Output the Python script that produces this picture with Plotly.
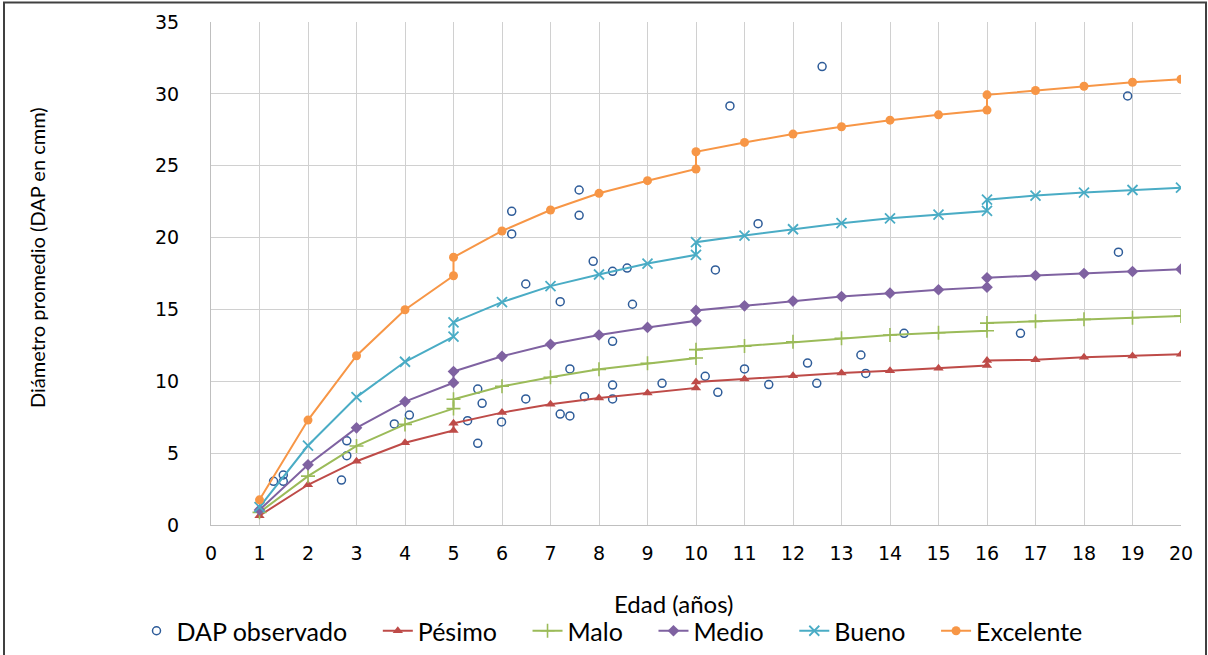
import plotly.graph_objects as go

# ---- data ----
model_x = [1, 2, 3, 4, 5, 5, 6, 7, 8, 9, 10, 10, 11, 12, 13, 14, 15, 16, 16, 17, 18, 19, 20]

pesimo = [0.65, 2.8, 4.44, 5.72, 6.57, 7.08, 7.82, 8.4, 8.84, 9.19, 9.54, 9.95, 10.16, 10.39, 10.58,
          10.74, 10.9, 11.09, 11.44, 11.5, 11.67, 11.76, 11.88]
malo = [0.88, 3.4, 5.5, 7.0, 8.1, 8.75, 9.65, 10.28, 10.83, 11.25, 11.62, 12.2, 12.45, 12.75, 12.99,
        13.22, 13.38, 13.52, 14.05, 14.17, 14.31, 14.42, 14.54]
medio = [1.05, 4.19, 6.76, 8.59, 9.9, 10.68, 11.74, 12.57, 13.22, 13.75, 14.21, 14.93, 15.25, 15.58, 15.9,
         16.13, 16.37, 16.55, 17.2, 17.36, 17.5, 17.64, 17.8]
bueno = [1.25, 5.53, 8.9, 11.36, 13.1, 14.1, 15.51, 16.62, 17.43, 18.19, 18.8, 19.68, 20.14, 20.58, 21.0,
         21.34, 21.6, 21.85, 22.64, 22.92, 23.13, 23.31, 23.47]
excelente = [1.75, 7.3, 11.78, 14.98, 17.34, 18.63, 20.46, 21.92, 23.08, 23.96, 24.77, 25.97, 26.62, 27.2,
             27.71, 28.17, 28.54, 28.87, 29.93, 30.23, 30.53, 30.81, 31.02]

obs_x = [1.29, 1.49, 1.49, 2.69, 2.8, 2.8, 3.78, 4.09, 5.29, 5.5, 5.5, 5.59, 5.99, 6.2, 6.2, 6.49, 6.49,
         7.2, 7.2, 7.4, 7.4, 7.59, 7.59, 7.7, 7.88, 8.28, 8.28, 8.28, 8.28, 8.58, 8.69, 9.3, 10.19, 10.4,
         10.45, 10.7, 11.0, 11.28, 11.5, 12.3, 12.49, 12.6, 13.4, 13.5, 14.29, 16.69, 18.71, 18.9]
obs_y = [3.04, 3.48, 3.04, 3.13, 4.82, 5.86, 7.03, 7.65, 7.26, 5.68, 9.46, 8.47, 7.17, 21.83, 20.25, 16.77,
         8.77, 15.54, 7.72, 7.59, 10.86, 23.31, 21.55, 8.93, 18.35, 17.65, 12.78, 9.74, 8.77, 17.88, 15.36,
         9.86, 10.35, 17.75, 9.23, 29.16, 10.86, 20.97, 9.77, 11.27, 9.86, 31.9, 11.83, 10.55, 13.34, 13.34,
         18.98, 29.85]

x_ticks = list(range(0, 21))
y_ticks = [0, 5, 10, 15, 20, 25, 30, 35]

series = [
    ("Pésimo", pesimo, "#BE4B48", "triangle-up", 9, 0),
    ("Malo", malo, "#9BBB59", "cross-thin", 10, 1.6),
    ("Medio", medio, "#7F62A1", "diamond", 9, 0),
    ("Bueno", bueno, "#4AACC5", "x-thin", 10, 1.8),
    ("Excelente", excelente, "#F79646", "circle", 9, 0),
]

LEGEND_FONT = "Lato, 'Open Sans', sans-serif"
TICK_FONT = "'DejaVu Sans', Verdana, sans-serif"
PAD = "\u00a0" * 4  # visual gap between legend entries

fig = go.Figure()
fig.add_trace(go.Scatter(
    x=obs_x, y=obs_y, mode="markers", name="DAP observado" + PAD,
    marker=dict(symbol="circle-open", size=8, color="#2E5C99", line=dict(width=1.5, color="#2E5C99")),
))
for name, vals, color, sym, size, lw in series:
    mk = dict(symbol=sym, size=size, color=color)
    if lw:
        mk["line"] = dict(width=lw, color=color)
    fig.add_trace(go.Scatter(
        x=model_x, y=vals, mode="lines+markers",
        name=name + (PAD if name != "Excelente" else ""),
        line=dict(color=color, width=2), marker=mk,
    ))

W, H = 1208, 655
L, R, T, B = 211, 27, 22, 130
pw, ph = W - L - R, H - T - B
PLOT_BOTTOM = T + ph

def px2paper(px, py):
    return (px - L) / pw, (PLOT_BOTTOM - py) / ph

fig.update_layout(
    width=W, height=H,
    margin=dict(l=L, r=R, t=T, b=B, pad=0, autoexpand=False),
    paper_bgcolor="white", plot_bgcolor="white",
    showlegend=True,
    legend=dict(
        orientation="h", x=px2paper(612, 0)[0], xanchor="center",
        y=px2paper(0, 631)[1], yanchor="middle",
        font=dict(family=LEGEND_FONT, size=25, color="#000000"),
        bgcolor="rgba(0,0,0,0)", itemwidth=30, tracegroupgap=0,
    ),
    xaxis=dict(
        range=[0, 20], tickvals=x_ticks, ticktext=[str(v) for v in x_ticks],
        showgrid=True, gridcolor="#D0D0D0", gridwidth=1,
        showline=True, linecolor="#BFBFBF", linewidth=1, zeroline=False,
        ticks="", ticklabelstandoff=11, automargin=False,
        tickfont=dict(family=TICK_FONT, size=19, color="#000000"),
    ),
    yaxis=dict(
        range=[0, 35], tickvals=y_ticks, ticktext=[str(v) for v in y_ticks],
        showgrid=True, gridcolor="#D0D0D0", gridwidth=1,
        showline=True, linecolor="#BFBFBF", linewidth=1, zeroline=False,
        ticks="", ticklabelstandoff=27, automargin=False,
        tickfont=dict(family=TICK_FONT, size=19, color="#000000"),
    ),
)

ax, ay = px2paper(673, 603)
fig.add_annotation(text="Edad (años)", x=ax, y=ay, xref="paper", yref="paper",
                   xanchor="center", yanchor="middle", showarrow=False,
                   font=dict(family=LEGEND_FONT, size=24, color="#000000"))
tx, ty = px2paper(37, 258)
fig.add_annotation(text="Diámetro promedio (DAP en cmm)", x=tx, y=ty, xref="paper", yref="paper",
                   xanchor="center", yanchor="middle", showarrow=False, textangle=-90,
                   font=dict(family=LEGEND_FONT, size=20, color="#000000"))

x0, y0 = px2paper(4, 680)
x1, y1 = px2paper(1206, 2.5)
fig.add_shape(type="rect", xref="paper", yref="paper", x0=x0, y0=y0, x1=x1, y1=y1,
              line=dict(color="#404040", width=2), fillcolor="rgba(0,0,0,0)", layer="above")

fig.write_html(
    "out.html",
    config={"displayModeBar": False},
    post_script=(
        "document.documentElement.style.margin='0';"
        "document.documentElement.style.padding='0';"
        "document.documentElement.style.overflow='hidden';"
        "document.body.style.margin='0';"
        "document.body.style.padding='0';"
        "document.body.style.overflow='hidden';"
        "window.scrollTo(0,0);"
    ),
)
